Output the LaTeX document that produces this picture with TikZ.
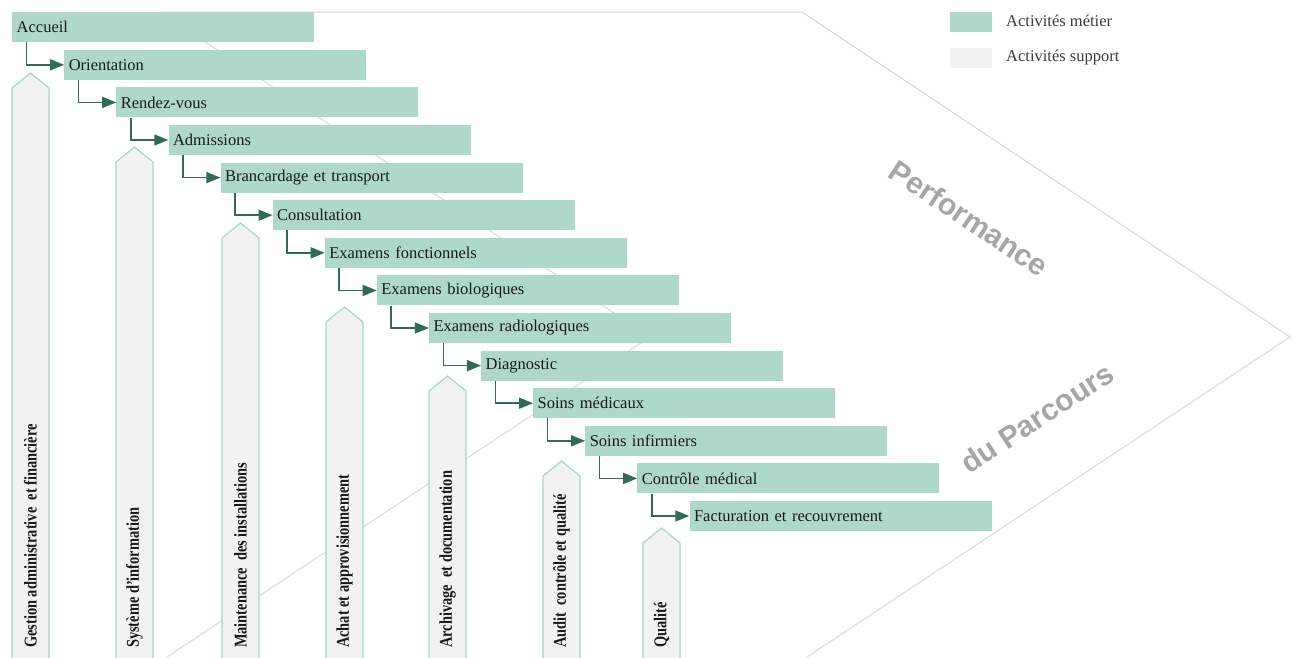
\documentclass[tikz,border=0pt]{standalone}
\usepackage{fontspec}
\setmainfont{Liberation Serif}
\newfontfamily\supfont[FakeStretch=0.8]{Liberation Serif Bold}
\newfontfamily\perffont{Liberation Sans Bold}
\usetikzlibrary{arrows.meta,calc}
\definecolor{metier}{HTML}{ADD8CA}
\definecolor{connc}{HTML}{2F6B58}
\definecolor{suppc}{HTML}{F2F2F2}
\definecolor{suppb}{HTML}{A9D6C7}
\definecolor{chevc}{HTML}{D9D9D9}
\definecolor{perfc}{HTML}{A6A6A6}
\definecolor{legc}{HTML}{3A3A3A}
\tikzset{
  stepbox/.style={fill=metier, anchor=north west, minimum width=302pt, minimum height=30pt,
    text width=293pt, inner xsep=4.5pt, inner ysep=0pt, align=left,
    font=\fontsize{16.5}{18}\selectfont, text=black!90},
  conn/.style={draw=connc, line width=1.6pt, -{Triangle[length=14pt,width=11pt]}},
  supp/.style={fill=suppc, draw=suppb, line width=1.2pt},
  supptext/.style={rotate=90, anchor=west, inner sep=0pt, text=black!90,
    font=\supfont\fontsize{18}{20}\selectfont},
  chev/.style={draw=chevc, line width=1pt},
  perf/.style={text=perfc, inner sep=0pt, font=\perffont\fontsize{30}{34}\selectfont},
  legbox/.style={anchor=north west, minimum width=42pt, minimum height=20pt, inner sep=0pt},
  legtext/.style={anchor=west, inner sep=0pt, text=legc, font=\fontsize{16.5}{18}\selectfont}
}
\begin{document}
\begin{tikzpicture}[x=1pt,y=-1pt]
\useasboundingbox (0,0) rectangle (1295,657);
\clip (0,0) rectangle (1295,657);
\fill[white] (0,0) rectangle (1295,657);

% background chevron
\draw[chev] (160,12) -- (802,12) -- (1290,337) -- (807,657);
\draw[chev] (160,12) -- (650,337) -- (167,657);

% performance text
\node[perf, rotate=-33.5] (perf1) at (969,218) {Performance};
\node[perf, rotate=33] (perf2) at (1037,418) {du Parcours};

% support activities
\foreach \L/\A [count=\i] in {12/73, 116/147, 222/223, 326/307, 429/376, 543/461, 643/528}{
  \path[supp] (\L,670) -- (\L,\A+15) -- (\L+18.5,\A) -- (\L+37,\A+15) -- (\L+37,670) -- cycle;
}
\node[supptext] (s1) at (30.5,648) {Gestion administrative\ \ et financière};
\node[supptext] (s2) at (134.5,648) {Système d’information};
\node[supptext] (s3) at (240.5,648) {Maintenance\ \ des installations};
\node[supptext] (s4) at (344.5,648) {Achat et approvisionnement};
\node[supptext] (s5) at (447.5,648) {Archivage\ \ et documentation};
\node[supptext] (s6) at (561.5,648) {Audit\ \ contrôle et qualité};
\node[supptext] (s7) at (661.5,648) {Qualité};

% business activities
\foreach \t [count=\i] in {Accueil, Orientation, Rendez-vous, Admissions, Brancardage et transport,
  Consultation, Examens fonctionnels, Examens biologiques, Examens radiologiques, Diagnostic,
  Soins médicaux, Soins infirmiers, Contrôle médical, Facturation et recouvrement}{
  \node[stepbox] (b\i) at ({12+52.1*(\i-1)},{12+37.6*(\i-1)}) {\t};
}
\foreach \i [evaluate=\i as \j using int(\i+1)] in {1,...,13}{
  \draw[conn] ($(b\i.south west)+(14.5,0)$) |- (b\j.west);
}

% legend
\node[legbox, fill=metier] (lg1) at (950,12) {};
\node[legbox, fill=suppc] (lg2) at (950,48) {};
\node[legtext] (lt1) at (1006,21) {Activités métier};
\node[legtext] (lt2) at (1006,58) {Activités support};
\end{tikzpicture}
\end{document}
